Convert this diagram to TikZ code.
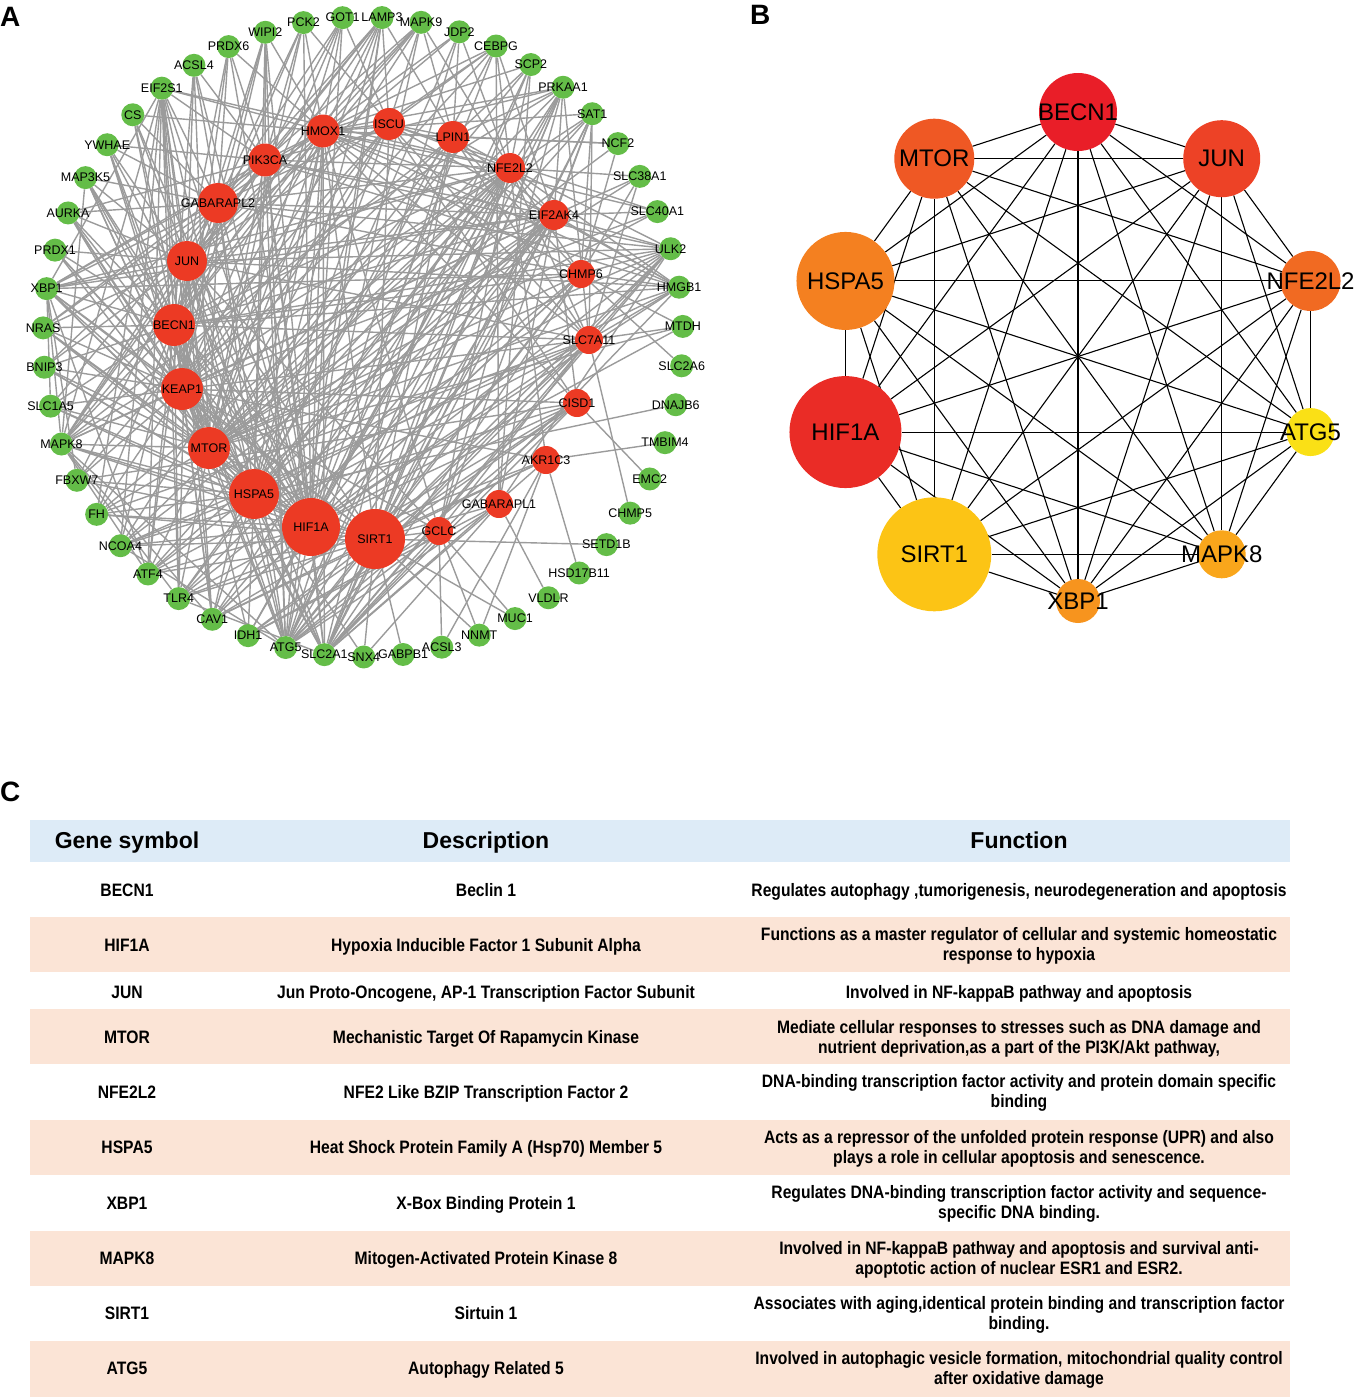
\documentclass[tikz,border=0pt]{standalone}
\usepackage{fontspec}
\setmainfont{Liberation Sans}
\newfontfamily\cellfont[FakeStretch=0.87]{Liberation Sans Bold}
\usetikzlibrary{backgrounds}

\definecolor{netred}{RGB}{236,58,36}
\definecolor{netgreen}{RGB}{100,189,72}
\definecolor{netgray}{RGB}{155,155,155}
\definecolor{headblue}{RGB}{221,235,247}
\definecolor{rowpeach}{RGB}{251,228,214}
\definecolor{cBECN}{RGB}{233,30,40}
\definecolor{cHIF}{RGB}{234,44,38}
\definecolor{cJUN}{RGB}{237,66,38}
\definecolor{cMTOR}{RGB}{239,88,36}
\definecolor{cNFE}{RGB}{241,106,34}
\definecolor{cHSPA}{RGB}{244,128,32}
\definecolor{cXBP}{RGB}{247,148,30}
\definecolor{cMAPK}{RGB}{249,166,27}
\definecolor{cSIRT}{RGB}{252,196,21}
\definecolor{cATG}{RGB}{250,224,22}

\tikzset{
  gnode/.style={circle, fill=netgreen, minimum size=23pt, inner sep=0pt},
  rnode/.style={circle, fill=netred, inner sep=0pt},
  anet/.style={font=\fontsize{12.5}{14}\selectfont, inner sep=0pt},
  aedge/.style={netgray, line width=1.4pt},
  bnode/.style={circle, inner sep=0pt},
  bnet/.style={font=\fontsize{24}{28}\selectfont, inner sep=0pt},
  bedge/.style={black, line width=1.1pt},
  panel/.style={font=\fontsize{28}{32}\selectfont\bfseries, anchor=base west, inner sep=0pt},
  headtext/.style={font=\fontsize{23}{26}\selectfont\bfseries, anchor=base},
  celltext/.style={font=\cellfont\fontsize{18}{19.5}\selectfont, align=center},
  oneline/.style={celltext, anchor=base},
}

\begin{document}
\begin{tikzpicture}[x=1pt,y=-1pt]
  \useasboundingbox (0,0) rectangle (1359,1397);

  % panel letters
  \node[panel] (labA) at (0,27) {A};
  \node[panel] (labB) at (750,25) {B};
  \node[panel] (labC) at (0,801) {C};

  % A: outer ring of green genes
  \foreach [count=\i from 0] \g in {LAMP3,MAPK9,JDP2,CEBPG,SCP2,PRKAA1,SAT1,NCF2,
      SLC38A1,SLC40A1,ULK2,HMGB1,MTDH,SLC2A6,DNAJB6,TMBIM4,EMC2,CHMP5,SETD1B,
      HSD17B11,VLDLR,MUC1,NNMT,ACSL3,GABPB1,SNX4,SLC2A1,ATG5,IDH1,CAV1,TLR4,ATF4,
      NCOA4,FH,FBXW7,MAPK8,SLC1A5,BNIP3,NRAS,XBP1,PRDX1,AURKA,MAP3K5,YWHAE,CS,
      EIF2S1,ACSL4,PRDX6,WIPI2,PCK2,GOT1}
    \node[gnode, label={[anet]center:\g}] (\g) at ([shift={(\i*7.0588-86.6:320)}]363,337) {};

  % A: red hub genes
  \foreach \n/\x/\y/\d in {HMOX1/323/131/33, PIK3CA/265/160/33, GABARAPL2/218/203/40,
      JUN/187/261/40, BECN1/174/325/42, KEAP1/182/389/42, MTOR/209/448/42,
      HSPA5/254/494/50, HIF1A/311/527/58, SIRT1/375/539/60, GCLC/439/531/28,
      GABARAPL1/499/504/28, AKR1C3/546/460/28, CISD1/577/403/28, SLC7A11/589/340/28,
      CHMP6/581/274/28, EIF2AK4/554/215/30, NFE2L2/510/168/30, LPIN1/453/137/32,
      ISCU/389/124/32}
    \node[rnode, minimum size=\d pt, label={[anet]center:\n}] (\n) at (\x,\y) {};

  \begin{scope}[on background layer]
    % A: interactions
    \foreach \s/\t in {
      SIRT1/{HIF1A,HSPA5,MTOR,KEAP1,BECN1,JUN,GCLC,SETD1B,GABPB1,SNX4,NNMT,MUC1,ATG5,SLC2A1,IDH1,XBP1,MAPK8,NFE2L2,HMOX1,EIF2AK4,PRKAA1,FH,NCOA4,CAV1,TLR4,ATF4,ISCU,LPIN1,SLC7A11,CHMP6,GABARAPL1,AKR1C3,CISD1,ULK2,SAT1},
      HIF1A/{HSPA5,MTOR,KEAP1,BECN1,JUN,GABARAPL2,PIK3CA,HMOX1,NFE2L2,EIF2AK4,SLC7A11,CHMP6,MAPK8,XBP1,ATG5,SLC2A1,IDH1,CAV1,TLR4,ATF4,NCOA4,FH,FBXW7,SLC1A5,BNIP3,NRAS,PRDX1,AURKA,MAP3K5,YWHAE,CS,EIF2S1,ACSL4,PRDX6,WIPI2,PCK2,GOT1,LAMP3,MAPK9,JDP2,CEBPG,SCP2,PRKAA1,ULK2,HMGB1,MTDH,CISD1},
      HSPA5/{MTOR,KEAP1,BECN1,JUN,GABARAPL2,PIK3CA,HMOX1,ISCU,LPIN1,NFE2L2,EIF2AK4,XBP1,MAPK8,ATG5,SLC2A1,CAV1,TLR4,ATF4,NCOA4,FH,FBXW7,SLC1A5,BNIP3,NRAS,AURKA,MAP3K5,EIF2S1,WIPI2,LAMP3,JDP2,CEBPG,SAT1,ULK2,HMGB1,IDH1,SNX4,DNAJB6},
      MTOR/{KEAP1,BECN1,JUN,GABARAPL2,PIK3CA,HMOX1,ISCU,LPIN1,NFE2L2,EIF2AK4,CHMP6,ULK2,PRKAA1,MAPK8,XBP1,ATG5,SLC2A1,SLC1A5,BNIP3,NRAS,PRDX1,AURKA,MAP3K5,YWHAE,CS,EIF2S1,ACSL4,PCK2,GOT1,LAMP3,SCP2,SAT1,NCF2,SLC38A1,SLC40A1,HMGB1,MTDH,TLR4,ATF4,FH},
      KEAP1/{BECN1,JUN,GABARAPL2,HMOX1,NFE2L2,EIF2AK4,SLC7A11,PRDX1,XBP1,NRAS,BNIP3,SLC1A5,MAPK8,FBXW7,FH,ATG5,SLC2A1,CAV1,YWHAE,MAP3K5,AURKA,EIF2S1,PRDX6,WIPI2,MAPK9,GOT1,CEBPG,ISCU,LPIN1,GCLC,AKR1C3,CISD1,SLC40A1},
      BECN1/{JUN,GABARAPL2,PIK3CA,HMOX1,NFE2L2,ATG5,SLC2A1,IDH1,CAV1,TLR4,ATF4,NCOA4,FH,MAPK8,SLC1A5,BNIP3,NRAS,XBP1,PRDX1,AURKA,MAP3K5,YWHAE,CS,EIF2S1,ACSL4,WIPI2,PCK2,LAMP3,MAPK9,ULK2,HMGB1,PRKAA1,CHMP6,SLC7A11,EIF2AK4},
      JUN/{GABARAPL2,PIK3CA,HMOX1,NFE2L2,EIF2AK4,XBP1,PRDX1,AURKA,MAP3K5,YWHAE,CS,EIF2S1,ACSL4,PRDX6,MAPK8,FBXW7,BNIP3,NRAS,ATF4,TLR4,CAV1,ATG5,SLC2A1,MAPK9,JDP2,CEBPG,LAMP3,HMGB1,ULK2,SLC7A11,GCLC},
      GABARAPL2/{PIK3CA,HMOX1,ISCU,EIF2S1,CS,YWHAE,MAP3K5,AURKA,ACSL4,PRDX6,WIPI2,PCK2,GOT1,LAMP3,ATG5,ULK2,NRAS,XBP1,BNIP3,SLC1A5,MAPK8,CHMP6,NFE2L2,EIF2AK4},
      HMOX1/{PIK3CA,ISCU,LPIN1,NFE2L2,EIF2AK4,GOT1,LAMP3,PCK2,WIPI2,PRDX6,MAPK9,JDP2,CEBPG,SCP2,PRKAA1,SAT1,NCF2,SLC40A1,HMGB1,SLC7A11,CHMP6,CISD1,GCLC,ATG5,SLC2A1,CAV1,MAPK8,XBP1,EIF2S1,CS},
      PIK3CA/{EIF2S1,ACSL4,PRDX6,WIPI2,PCK2,GOT1,LAMP3,MAPK9,ATG5,SLC2A1,NRAS,XBP1,MAPK8,AURKA,YWHAE,NFE2L2,EIF2AK4,ULK2,HMGB1,PRKAA1},
      ISCU/{LPIN1,GOT1,LAMP3,PCK2,MAPK9,CEBPG,NFE2L2,SLC7A11,CISD1,SLC40A1,HMGB1,FBXW7,NCOA4},
      LPIN1/{NFE2L2,NCF2,PRKAA1,LAMP3,MAPK9,JDP2,SCP2,EIF2AK4,CHMP6,SLC7A11,ATG5,SLC2A1,MAPK8},
      NFE2L2/{EIF2AK4,SLC7A11,GCLC,AKR1C3,CHMP6,SAT1,PRKAA1,SCP2,CEBPG,JDP2,MAPK9,SLC38A1,ULK2,HMGB1,ATG5,SLC2A1,IDH1,CAV1,ATF4,TLR4,XBP1,MAPK8,FH,NCOA4,EIF2S1},
      EIF2AK4/{SAT1,SLC38A1,SLC40A1,ULK2,HMGB1,ATF4,NCOA4,TLR4,CAV1,SLC2A1,ATG5,PRKAA1,CEBPG,XBP1,MAPK8,CISD1,GABARAPL1},
      CHMP6/{ULK2,HMGB1,MTDH,SLC2A6,ATG5,SLC2A1,CAV1,SAT1,NCF2,SLC38A1,XBP1,TLR4},
      SLC7A11/{CHMP5,MTDH,HMGB1,ULK2,SLC2A1,ATG5,ATF4,GCLC,SAT1,PRKAA1,NCOA4,SLC38A1,FH},
      CISD1/{EMC2,SLC2A1,ATG5,IDH1,CAV1,NCOA4,FBXW7},
      AKR1C3/{HSD17B11,TMBIM4,SLC2A1,CAV1,TLR4,NNMT,ACSL3},
      GABARAPL1/{VLDLR,ATG5,SLC2A1,ULK2,SNX4,IDH1,SCP2,CEBPG},
      GCLC/{MUC1,NNMT,ACSL3,ATG5,SLC2A1,IDH1,SAT1,PRKAA1},
      EIF2S1/{ATF4,MAPK8,XBP1,TLR4,CAV1,NCOA4,FH},
      ATG5/{ULK2,MAPK8,WIPI2,LAMP3,PRKAA1,SCP2,NCOA4},
      XBP1/{ATF4,MAPK8,SLC1A5,FBXW7},
      SLC2A1/{HMGB1,PRKAA1,ULK2,SAT1,TLR4},
      MAPK8/{MAP3K5,CAV1,TLR4,ATF4}}
      \foreach \u in \t {\draw[aedge] (\s) -- (\u);}
  \end{scope}

  % B: top ten hub genes
  \foreach \n/\a/\d/\c in {BECN1/-90/78/cBECN, JUN/-54/77/cJUN, NFE2L2/-18/60/cNFE,
      ATG5/18/48/cATG, MAPK8/54/48/cMAPK, XBP1/90/44/cXBP, SIRT1/126/114/cSIRT,
      HIF1A/162/112/cHIF, HSPA5/198/98/cHSPA, MTOR/234/80/cMTOR}
    \node[bnode, fill=\c, minimum size=\d pt, label={[bnet]center:\n}] (hub\n) at ([shift={(\a:244.5)}]1078,356.5) {};

  \begin{scope}[on background layer]
    \foreach [count=\i] \u in {BECN1,JUN,NFE2L2,ATG5,MAPK8,XBP1,SIRT1,HIF1A,HSPA5,MTOR}
      \foreach [count=\j] \v in {BECN1,JUN,NFE2L2,ATG5,MAPK8,XBP1,SIRT1,HIF1A,HSPA5,MTOR}
        {\ifnum\j>\i \draw[bedge] (hub\u) -- (hub\v); \fi}
  \end{scope}

  % C: table
  \fill[headblue] (30,820) rectangle (1290,862);
  \foreach \top/\bot in {917/972, 1009/1064, 1120/1175, 1231/1286, 1341/1397}
    \fill[rowpeach] (30,\top) rectangle (1290,\bot);

  \node[headtext] (hsym) at (127,848) {Gene symbol};
  \node[headtext] (hdesc) at (486,848) {Description};
  \node[headtext] (hfun) at (1019,848) {Function};

  \node[oneline] (sym1) at (127,896.5) {BECN1};
  \node[oneline] (desc1) at (486,896.5) {Beclin 1};
  \node[oneline] (fun1) at (1019,896.5) {Regulates autophagy ,tumorigenesis, neurodegeneration and apoptosis};

  \node[oneline] (sym2) at (127,951.5) {HIF1A};
  \node[oneline] (desc2) at (486,951.5) {Hypoxia Inducible Factor 1 Subunit Alpha};
  \node[celltext] (fun2) at (1019,946) {Functions as a master regulator of cellular and systemic homeostatic\\response to hypoxia};

  \node[oneline] (sym3) at (127,998.5) {JUN};
  \node[oneline] (desc3) at (486,998.5) {Jun Proto-Oncogene, AP-1 Transcription Factor Subunit};
  \node[oneline] (fun3) at (1019,998.5) {Involved in NF-kappaB pathway and apoptosis};

  \node[oneline] (sym4) at (127,1043.5) {MTOR};
  \node[oneline] (desc4) at (486,1043.5) {Mechanistic Target Of Rapamycin Kinase};
  \node[celltext] (fun4) at (1019,1039) {Mediate cellular responses to stresses such as DNA damage and\\nutrient deprivation,as a part of the PI3K/Akt pathway,};

  \node[oneline] (sym5) at (127,1098.5) {NFE2L2};
  \node[oneline] (desc5) at (486,1098.5) {NFE2 Like BZIP Transcription Factor 2};
  \node[celltext] (fun5) at (1019,1093) {DNA-binding transcription factor activity and protein domain specific\\binding};

  \node[oneline] (sym6) at (127,1153.5) {HSPA5};
  \node[oneline] (desc6) at (486,1153.5) {Heat Shock Protein Family A (Hsp70) Member 5};
  \node[celltext] (fun6) at (1019,1149) {Acts as a repressor of the unfolded protein response (UPR) and also\\plays a role in cellular apoptosis and senescence.};

  \node[oneline] (sym7) at (127,1209.5) {XBP1};
  \node[oneline] (desc7) at (486,1209.5) {X-Box Binding Protein 1};
  \node[celltext] (fun7) at (1019,1204) {Regulates DNA-binding transcription factor activity and sequence-\\specific DNA binding.};

  \node[oneline] (sym8) at (127,1264.5) {MAPK8};
  \node[oneline] (desc8) at (486,1264.5) {Mitogen-Activated Protein Kinase 8};
  \node[celltext] (fun8) at (1019,1260) {Involved in NF-kappaB pathway and apoptosis and survival anti-\\apoptotic action of nuclear ESR1 and ESR2.};

  \node[oneline] (sym9) at (127,1319.5) {SIRT1};
  \node[oneline] (desc9) at (486,1319.5) {Sirtuin 1};
  \node[celltext] (fun9) at (1019,1315) {Associates with aging,identical protein binding and transcription factor\\binding.};

  \node[oneline] (sym10) at (127,1374.5) {ATG5};
  \node[oneline] (desc10) at (486,1374.5) {Autophagy Related 5};
  \node[celltext] (fun10) at (1019,1370) {Involved in autophagic vesicle formation, mitochondrial quality control\\after oxidative damage};
\end{tikzpicture}
\end{document}
